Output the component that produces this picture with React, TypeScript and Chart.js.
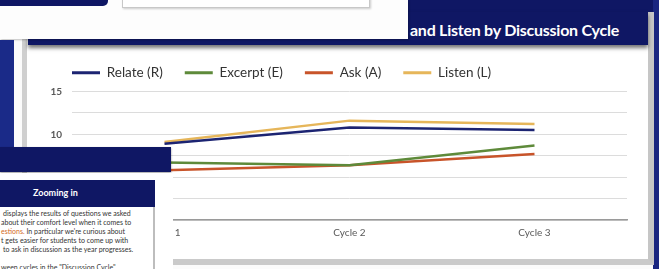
import React, { useEffect, useRef } from "react";
import { Chart, registerables } from "chart.js";

Chart.register(...registerables);

const categories = ["Cycle 1", "Cycle 2", "Cycle 3"];
const relate = [8.9, 10.8, 10.5];
const excerpt = [6.7, 6.4, 8.7];
const ask = [5.8, 6.4, 7.7];
const listen = [9.1, 11.6, 11.2];
const seriesNames = ["Relate (R)", "Excerpt (E)", "Ask (A)", "Listen (L)"];
const seriesColors = ["#1c2472", "#5e8a3a", "#c8542a", "#e6b65a"];
const yMin = 0;
const yMax = 15;
const yStep = 2.5;
const yLabelEvery = 5;

const titleText = "and Listen by Discussion Cycle";
const zoomTitle = "Zooming in";

const NAVY = "#0f1764";

const abs = (l: number, t: number, w: number, h: number, extra: React.CSSProperties = {}): React.CSSProperties => ({
  position: "absolute",
  left: l,
  top: t,
  width: w,
  height: h,
  boxSizing: "border-box",
  ...extra,
});

export default function App() {
  const ref = useRef<HTMLCanvasElement | null>(null);

  useEffect(() => {
    document.body.style.margin = "0";
    if (!ref.current) return;
    const legendMargin = {
      id: "legendMargin",
      beforeInit(chart: any) {
        const orig = chart.legend.fit;
        chart.legend.fit = function () {
          orig.bind(chart.legend)();
          this.height += 2;
        };
      },
    };
    const values = [relate, excerpt, ask, listen];
    const chart = new Chart(ref.current, {
      type: "line",
      data: {
        labels: categories,
        datasets: values.map((v, i) => ({
          label: seriesNames[i],
          data: v,
          borderColor: seriesColors[i],
          backgroundColor: seriesColors[i],
          borderWidth: 2.5,
          pointRadius: 0,
          tension: 0,
        })),
      },
      options: {
        animation: false,
        responsive: false,
        maintainAspectRatio: false,
        layout: { padding: { left: 0, right: 13, top: 0, bottom: 0 } },
        plugins: {
          legend: {
            position: "top",
            align: "start",
            labels: {
              boxWidth: 28,
              boxHeight: 3,
              padding: 22,
              color: "#333333",
              font: { family: "Lato", size: 13.5 },
              generateLabels: (chart: any) =>
                chart.data.datasets.map((d: any, i: number) => ({
                  text: d.label,
                  fillStyle: d.borderColor,
                  strokeStyle: d.borderColor,
                  lineWidth: 0,
                  fontColor: "#333333",
                  datasetIndex: i,
                  hidden: false,
                })),
            },
          },
          tooltip: { enabled: false },
        },
        scales: {
          x: {
            offset: true,
            grid: { display: false, drawTicks: false },
            border: { display: true, color: "#9a9a9a", width: 1.5 },
            ticks: { color: "#595959", font: { family: "Lato", size: 10 }, padding: 7 },
            afterFit: (s: any) => {
              s.height = 26;
            },
          },
          y: {
            min: yMin,
            max: yMax,
            grid: { color: "#dcdcdc", lineWidth: 1, drawTicks: false },
            border: { display: false },
            ticks: {
              stepSize: yStep,
              padding: 10,
              color: "#595959",
              font: { family: "Lato", size: 10, weight: "bold" },
              callback: (v: any) => (Number(v) % yLabelEvery === 0 ? String(v) : ""),
            },
            afterFit: (s: any) => {
              s.width = 22;
            },
          },
        },
      },
      plugins: [legendMargin],
    } as any);
    return () => chart.destroy();
  }, []);

  return (
    <div style={{ position: "fixed", left: 0, top: 0, width: 659, height: 269, overflow: "hidden", background: "#fbfbfb", fontFamily: "Lato" }}>
      {/* navy backdrop top right */}
      <div style={abs(370, 0, 289, 14, { background: NAVY })} />
      <div style={abs(653, 0, 6, 269, { background: "#1a2680" })} />
      {/* chart panel */}
      <div
        style={abs(22, 12, 632, 253, {
          background: "#ffffff",
          borderLeft: "5px solid #cfcfcf",
          borderRight: "6px solid #c6c6c6",
          borderBottom: "6px solid #cacaca",
        })}
      />
      <div style={abs(28, 12, 620, 33, { background: NAVY, boxShadow: "0 3px 4px rgba(0,0,0,0.55)" })}>
        <div
          style={{
            position: "absolute",
            left: 382,
            top: 8,
            color: "#ffffff",
            fontWeight: 700,
            fontSize: 16,
            whiteSpace: "nowrap",
            letterSpacing: -0.25,
          }}
        >
          {titleText}
        </div>
      </div>
      <canvas ref={ref} width={590} height={202} style={{ position: "absolute", left: 50, top: 44, width: 590, height: 202 }} />
      {/* white slide overlay top-left */}
      <div style={abs(0, 0, 408, 39, { background: "#fdfdfd", boxShadow: "1px 1px 2px rgba(0,0,0,0.25)" })} />
      <div style={abs(122, -3, 248, 11, { background: "#ffffff", border: "1px solid #c8c8c8", boxShadow: "1px 1px 2px rgba(0,0,0,0.2)" })} />
      <div style={abs(0, 0, 108, 6, { background: NAVY, borderBottomRightRadius: 5 })} />
      {/* left navy strip */}
      <div style={abs(0, 40, 14, 108, { background: "#1a2a88" })} />
      {/* second navy bar */}
      <div style={abs(0, 147, 171, 25, { background: NAVY, boxShadow: "0 1px 2px rgba(0,0,0,0.4)" })} />
      {/* zooming slide */}
      <div style={abs(0, 173, 173, 96, { background: "#ffffff" })} />
      <div style={abs(-20, 180, 175, 27, { background: NAVY })}>
        <div style={{ position: "absolute", left: 53, top: 7, color: "#fff", fontWeight: 700, fontSize: 9, whiteSpace: "nowrap" }}>{zoomTitle}</div>
      </div>
      <div style={abs(-20, 207, 175, 70, { background: "#ffffff", borderRight: "2px solid #bdbdbd", borderLeft: "1px solid #bdbdbd" })}>
        <div style={{ position: "absolute", left: 20, top: 2, fontSize: 7, lineHeight: "9px", color: "#333", whiteSpace: "nowrap" }}>
          <div style={{ paddingLeft: 2 }}>displays the results of questions we asked</div>
          <div>about their comfort level when it comes to</div>
          <div>
            <span style={{ color: "#d2691e" }}>estions.</span> In particular we're curious about
          </div>
          <div>t gets easier for students to come up with</div>
          <div style={{ paddingLeft: 2 }}>to ask in discussion as the year progresses.</div>
          <div>&nbsp;</div>
          <div>ween cycles in the "Discussion Cycle"</div>
        </div>
      </div>
    </div>
  );
}
